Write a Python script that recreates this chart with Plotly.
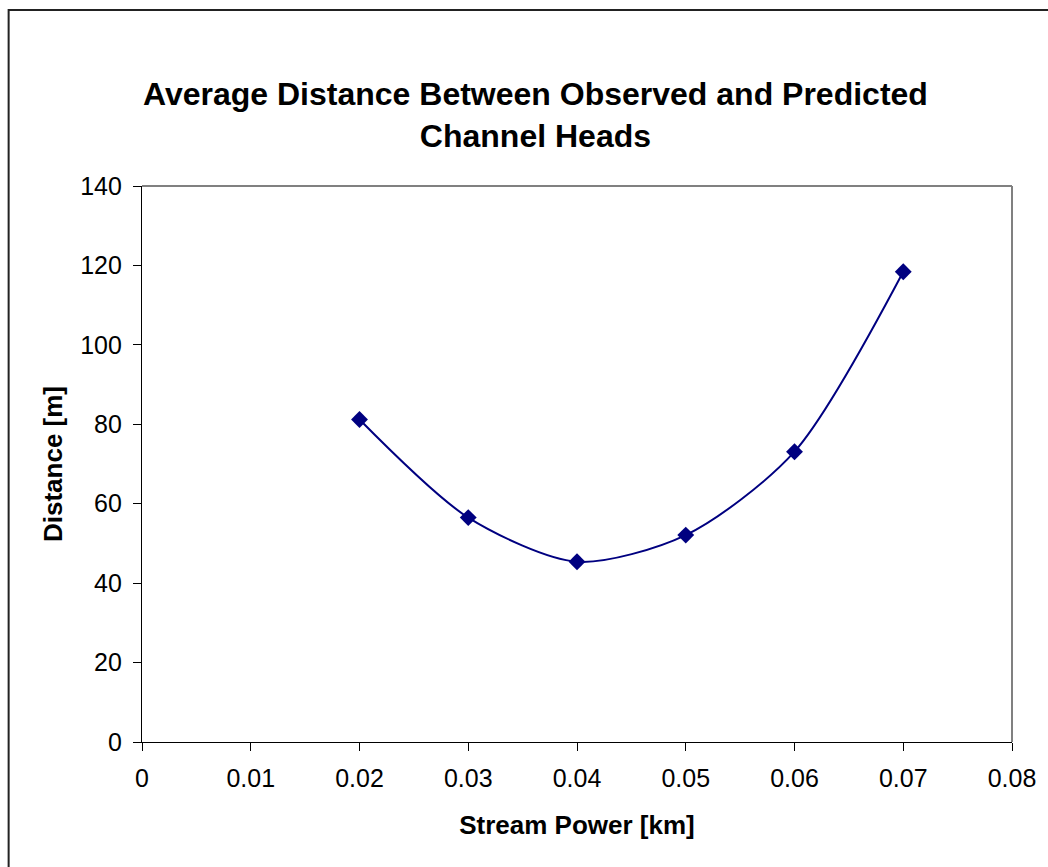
import plotly.graph_objects as go

# Stream power threshold vs. mean distance between observed and predicted channel heads
stream_power = [0.02, 0.03, 0.04, 0.05, 0.06, 0.07]
distance_m = [81.2, 56.5, 45.4, 52.1, 73.1, 118.4]

x_ticks = [0, 0.01, 0.02, 0.03, 0.04, 0.05, 0.06, 0.07, 0.08]
x_tick_text = ["0", "0.01", "0.02", "0.03", "0.04", "0.05", "0.06", "0.07", "0.08"]
y_ticks = [0, 20, 40, 60, 80, 100, 120, 140]

FONT = "Liberation Sans, Arial, sans-serif"
NAVY = "#000080"

fig = go.Figure()
fig.add_trace(go.Scatter(
    x=stream_power,
    y=distance_m,
    mode="lines+markers",
    line=dict(color=NAVY, width=2, shape="spline", smoothing=0.8),
    marker=dict(symbol="diamond", size=13, color=NAVY),
    showlegend=False,
    hoverinfo="x+y",
))

axis_common = dict(
    showgrid=False,
    zeroline=False,
    showline=True,
    linecolor="black",
    linewidth=1.2,
    ticks="outside",
    ticklen=8,
    tickwidth=1.2,
    tickcolor="black",
    tickfont=dict(family=FONT, size=25, color="black"),
)

fig.update_layout(
    width=1048,
    height=867,
    margin=dict(l=142, r=28, t=186, b=125),
    paper_bgcolor="white",
    plot_bgcolor="white",
    xaxis=dict(
        range=[0, 0.08],
        tickvals=x_ticks,
        ticktext=x_tick_text,
        ticklabelstandoff=6,
        title=dict(text="<b>Stream Power [km]</b>",
                   font=dict(family=FONT, size=26, color="black"), standoff=24),
        **axis_common,
    ),
    yaxis=dict(
        range=[0, 140],
        tickvals=y_ticks,
        ticklabelstandoff=6,
        title=dict(text="<b>Distance [m]</b>",
                   font=dict(family=FONT, size=26, color="black"), standoff=10),
        **axis_common,
    ),
    annotations=[dict(
        text="<b>Average Distance Between Observed and Predicted<br>Channel Heads</b>",
        x=0.452, y=1.128, xref="paper", yref="paper",
        xanchor="center", yanchor="middle", showarrow=False,
        font=dict(family=FONT, size=32, color="black"),
    )],
    shapes=[
        # gray frame on the top and right of the plot area
        dict(type="line", xref="paper", yref="paper", x0=0, x1=1, y0=1, y1=1,
             line=dict(color="#808080", width=2)),
        dict(type="line", xref="paper", yref="paper", x0=1, x1=1, y0=0, y1=1,
             line=dict(color="#808080", width=2)),
        # outer chart border
        dict(type="rect", xref="paper", yref="paper",
             x0=-0.1533, x1=1.2, y0=-0.4, y1=1.3165,
             line=dict(color="#222222", width=2), layer="below"),
    ],
)

fig.write_html("out.html")
